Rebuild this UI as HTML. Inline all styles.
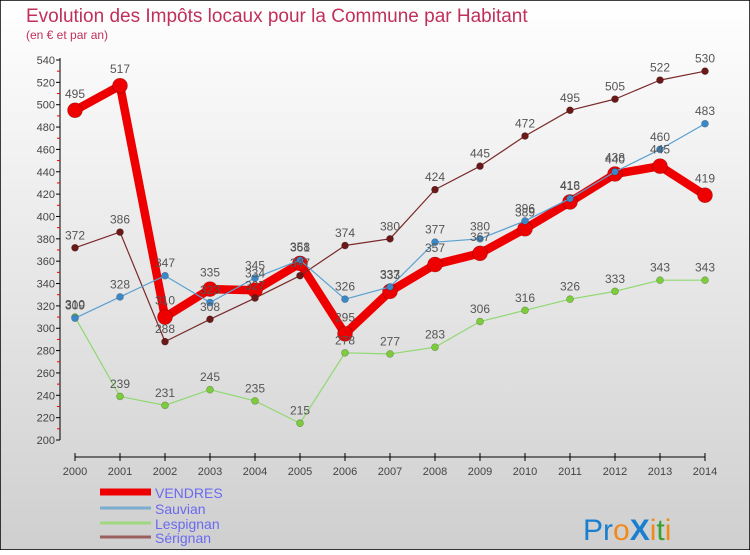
<!DOCTYPE html>
<html><head><meta charset="utf-8"><style>
html,body{margin:0;padding:0;}
body{width:750px;height:550px;overflow:hidden;font-family:"Liberation Sans",sans-serif;}
svg text{font-family:"Liberation Sans",sans-serif;}
</style></head><body>
<svg id="chart" width="750" height="550" xmlns="http://www.w3.org/2000/svg">
<defs><linearGradient id="bg" x1="0" y1="0" x2="0" y2="1"><stop offset="0" stop-color="#ffffff"/><stop offset="1" stop-color="#cfcfcf"/></linearGradient></defs>
<rect x="0" y="0" width="750" height="550" fill="url(#bg)" stroke="#000" stroke-width="1.5"/>
<text x="26" y="22" font-size="19" fill="#c0305a" font-weight="300">Evolution des Impôts locaux pour la Commune par Habitant</text>
<text x="26" y="39" font-size="12" fill="#c0305a" font-weight="300">(en € et par an)</text>
<g id="axes"></g><g id="series"></g><g id="labels"></g>
<g id="legend"></g>
<text x="583" y="540" font-size="30"><tspan fill="#1a7fd0">Pr</tspan><tspan fill="#f08a1c">o</tspan><tspan fill="#1a7fd0" font-weight="bold">X</tspan><tspan fill="#f08a1c">i</tspan><tspan fill="#3aa030">t</tspan><tspan fill="#f08a1c">i</tspan></text>
</svg>
<script>
const years=[2000,2001,2002,2003,2004,2005,2006,2007,2008,2009,2010,2011,2012,2013,2014];
const vendres=[495,517,310,335,334,358,295,333,357,367,389,413,438,445,419];
const sauvian=[309,328,347,323,345,361,326,337,377,380,396,416,440,460,483];
const lespignan=[310,239,231,245,235,215,278,277,283,306,316,326,333,343,343];
const serignan=[372,386,288,308,327,347,374,380,424,445,472,495,505,522,530];
const yTicks=[200,220,240,260,280,300,320,340,360,380,400,420,440,460,480,500,520,540];
const NS="http://www.w3.org/2000/svg";
const X=i=>75+i*(705-75)/(years.length-1);
const Y=v=>440-(v-200)*380/340;
function mk(tag,attrs,parent,text){const e=document.createElementNS(NS,tag);for(const k in attrs)e.setAttribute(k,attrs[k]);if(text!==undefined)e.textContent=text;document.getElementById(parent).appendChild(e);return e;}
let e=mk('line',{x1:60,y1:58,x2:60,y2:440,stroke:'#000','stroke-width':1},'axes');


yTicks.forEach(v=>{
 mk('line',{x1:56,y1:Y(v),x2:60,y2:Y(v),stroke:'#000'},'axes');
 if(v<540) mk('line',{x1:57,y1:Y(v+10),x2:60,y2:Y(v+10),stroke:'#e00'},'axes');
 let t=mk('text',{x:55,y:Y(v)+4,'font-size':11,'text-anchor':'end',fill:'#444'},'axes',v);
 
 
});
e=mk('line',{x1:75,y1:457,x2:705,y2:457,stroke:'#000'},'axes');


years.forEach((yr,i)=>{
 mk('line',{x1:X(i),y1:453,x2:X(i),y2:461,stroke:'#000'},'axes');
 let t=mk('text',{x:X(i),y:475,'font-size':11,'text-anchor':'middle',fill:'#444'},'axes',yr);
 
 
});
const series=[
 {n:'serignan',d:serignan,c:'#7a2a2a',w:1.2,r:3.5,dot:'#6a1818'},
 {n:'lespignan',d:lespignan,c:'#90d870',w:1.2,r:3.5,dot:'#7ccc3c'},
 {n:'sauvian',d:sauvian,c:'#5aa0d0',w:1.2,r:3.5,dot:'#3a88c8'},
 {n:'vendres',d:vendres,c:'#ee0000',w:8.5,r:7.5,dot:'#ee0000'}
];
const order=[series[3],series[0],series[1],series[2]];
order.forEach(s=>{
 let p=mk('polyline',{points:s.d.map((v,i)=>X(i)+','+Y(v)).join(' '),fill:'none',stroke:s.c,'stroke-width':s.w,'stroke-linejoin':'round'},'series');
 
 
 s.d.forEach((v,i)=>{
  let c=mk('circle',{cx:X(i),cy:Y(v),r:s.r,fill:s.dot,stroke:'rgba(0,0,0,0.3)','stroke-width':0.6},'series');
  
  
  let t=mk('text',{x:X(i),y:Y(v)-(s.r+5),'font-size':12,'text-anchor':'middle',fill:'#555'},'labels',v);
  
  
 });
});
const legend=[['VENDRES','#ee0000',7,492],['Sauvian','#7aaed0',3,508],['Lespignan','#a0d880',3,523],['Sérignan','#9a6060',3,537]];
legend.forEach(l=>{
 let ln=mk('line',{x1:100,y1:l[3],x2:151,y2:l[3],stroke:l[1],'stroke-width':l[2]},'legend');
 
 
 let t=mk('text',{x:155,y:l[3]+6,'font-size':14,fill:'#6a6af0'},'legend',l[0]);
 
 
});
</script>
</body></html>
